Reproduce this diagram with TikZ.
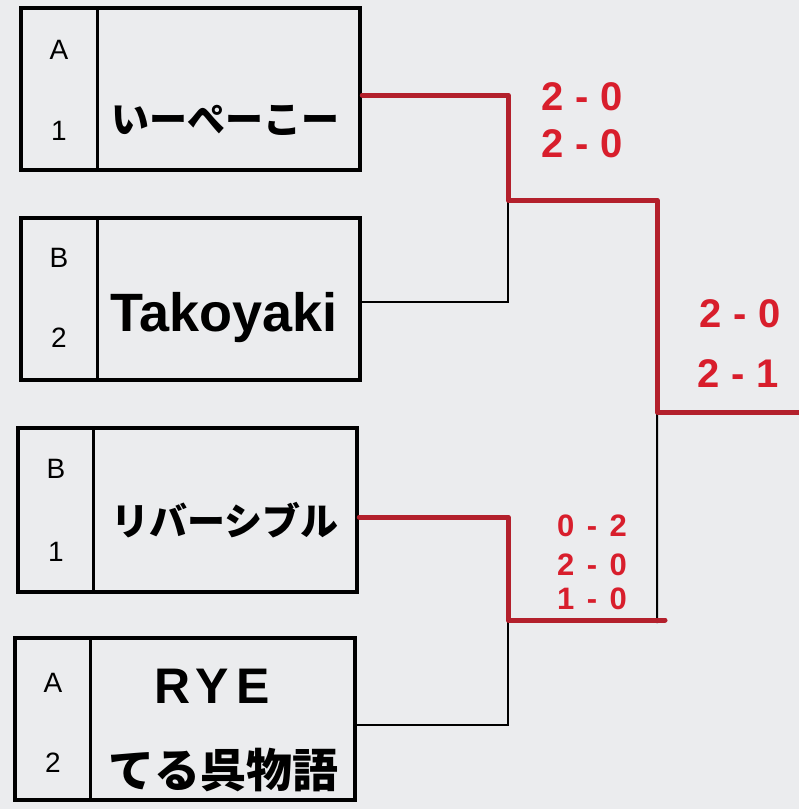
\documentclass[tikz,border=0pt]{standalone}
\usepackage{fontspec}
\setmainfont{Liberation Sans}
\newfontfamily\jpfont{Noto Sans CJK JP}
\definecolor{paper}{HTML}{EBECEE}
\definecolor{markred}{HTML}{B3202C}
\definecolor{scorered}{HTML}{D81E2C}
\tikzset{
  teambox/.style={draw=black, line width=4.5pt, fill=paper, inner sep=0pt},
  divider/.style={draw=black, line width=3pt},
  cell/.style={font=\fontsize{28}{28}\selectfont, inner sep=0pt},
  namejp/.style={font=\jpfont\bfseries\fontsize{38}{38}\selectfont, inner sep=0pt},
  namelat/.style={font=\bfseries\fontsize{54}{54}\selectfont, inner sep=0pt},
  blackline/.style={draw=black, line width=2pt},
  redline/.style={draw=markred, line width=5pt, line cap=round, line join=round},
  score/.style={text=scorered, font=\bfseries\addfontfeature{LetterSpace=30}\fontsize{40}{40}\selectfont, inner sep=0pt},
  scoresm/.style={text=scorered, font=\bfseries\addfontfeature{LetterSpace=40}\fontsize{31}{31}\selectfont, inner sep=0pt}
}
\begin{document}
\begin{tikzpicture}[x=1pt, y=-1pt]
\fill[paper] (0,0) rectangle (799,809);
\useasboundingbox (0,0) rectangle (799,809);

% team boxes
\node[teambox, minimum width=339pt, minimum height=162pt] (t1) at (190.5,89) {};
\node[teambox, minimum width=339pt, minimum height=162pt] (t2) at (190.5,299) {};
\node[teambox, minimum width=339pt, minimum height=164pt] (t3) at (187.5,510) {};
\node[teambox, minimum width=340pt, minimum height=162pt] (t4) at (185,719) {};

% dividers
\draw[divider] (97,8) -- (97,170);
\draw[divider] (97,218) -- (97,380);
\draw[divider] (93,428) -- (93,592);
\draw[divider] (90,638) -- (90,800);

% group / rank labels
\node[cell] (g1) at (59,50) {A};
\node[cell] (r1) at (59,131) {1};
\node[cell] (g2) at (59,258) {B};
\node[cell] (r2) at (59,338) {2};
\node[cell] (g3) at (56,469) {B};
\node[cell] (r3) at (56,552) {1};
\node[cell] (g4) at (53,683) {A};
\node[cell] (r4) at (53,763) {2};

% team names
\node[namejp] (n1) at (225,120) {いーぺーこー};
\node[namelat] (n2) at (224,318) {Takoyaki};
\node[namejp] (n3) at (225,520) {リバーシブル};
\node[namelat, font=\bfseries\addfontfeature{LetterSpace=15}\fontsize{50}{50}\selectfont] (n4a) at (212,686) {RYE};
\node[namejp, font=\jpfont\bfseries\fontsize{46}{46}\selectfont] (n4b) at (223,770) {てる呉物語};

% junctions
\coordinate (j1) at (508,200);
\coordinate (j2) at (508,620);
\coordinate (fin) at (657,412);
\coordinate (finb) at (657,622);
\coordinate (j2r) at (665,620);
\coordinate (win) at (799,412);

% black connectors
\draw[blackline] ([yshift=-3pt]t2.east) -| (j1);
\draw[blackline] ([yshift=-6pt]t4.east) -| (j2);
\draw[blackline] (fin) -- (finb) -- (j2);

% red (winner) connectors
\draw[redline] ([yshift=-6pt]t1.east) -| (j1) -| (fin) -- (win);
\draw[redline] ([yshift=-7pt]t3.east) -| (j2) -- (j2r);

% scores
\node[score] (s1) at (582,97) {2-0};
\node[score] (s2) at (582,144) {2-0};
\node[score] (s3) at (740,314) {2-0};
\node[score] (s4) at (738,374) {2-1};
\node[scoresm] (s5) at (592,526) {0-2};
\node[scoresm] (s6) at (592,565) {2-0};
\node[scoresm] (s7) at (592,599) {1-0};
\end{tikzpicture}
\end{document}
